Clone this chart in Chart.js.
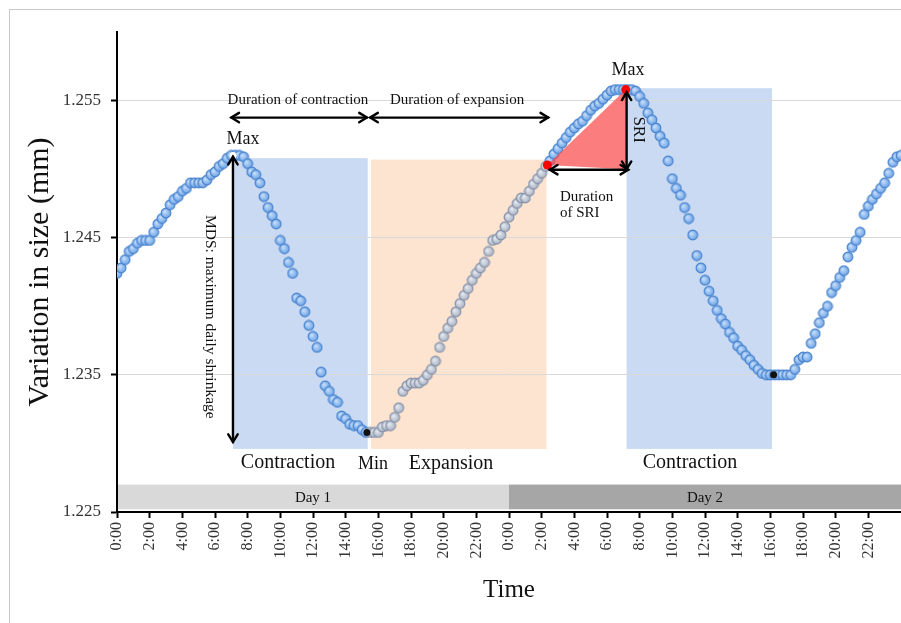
<!DOCTYPE html>
<html>
<head>
<meta charset="utf-8">
<title>Variation in size</title>
<script src="https://cdn.jsdelivr.net/npm/chart.js@4"></script>
<style>
    html, body { margin: 0; padding: 0; background: #fff; }
    #wrap { position: relative; width: 901px; height: 623px; overflow: hidden; }
    #frame { position: absolute; left: 9px; top: 9px; right: -5px; bottom: -5px;
             border-left: 1px solid #c8c8c8; border-top: 1px solid #c8c8c8; }
    canvas { position: absolute; left: 0; top: 0; }
</style>
</head>
<body>
<div id="wrap">
    <div id="frame"></div>
    <canvas id="chart" width="901" height="623"></canvas>
</div>
<script>
// one reading every 15 minutes, from 0:00 of day 1 to 0:00 after day 2
var stepHours = 0.25;
var sizes = [
    1.2424, 1.2428, 1.2434, 1.2440,  // 0h
    1.2442, 1.2446, 1.2448, 1.2448,
    1.2448, 1.2454, 1.2460, 1.2464,
    1.2468, 1.2474, 1.2478, 1.2480,
    1.2484, 1.2486, 1.2490, 1.2490,
    1.2490, 1.2490, 1.2492, 1.2496,
    1.2498, 1.2502, 1.2504, 1.2508,
    1.2510, 1.2510, 1.2510, 1.2509,  // 7h
    1.2504, 1.2498, 1.2496, 1.2490,
    1.2480, 1.2472, 1.2466, 1.2460,
    1.2448, 1.2442, 1.2432, 1.2424,
    1.2406, 1.2404, 1.2396, 1.2386,
    1.2378, 1.2370, 1.2352, 1.2342,  // 12h
    1.2338, 1.2332, 1.2330, 1.2320,
    1.2318, 1.2314, 1.2313, 1.2313,
    1.2310, 1.2308, 1.2308, 1.2308,
    1.2308, 1.2312, 1.2313, 1.2313,
    1.2319, 1.2326, 1.2338, 1.2342,
    1.2344, 1.2344, 1.2344, 1.2346,  // 18h
    1.2350, 1.2354, 1.2360, 1.2370,
    1.2378, 1.2384, 1.2389, 1.2396,
    1.2402, 1.2408, 1.2413, 1.2419,
    1.2424, 1.2428, 1.2432, 1.2440,
    1.2448, 1.2449, 1.2452, 1.2458,
    1.2465, 1.2470, 1.2475, 1.2479,  // 24h (day 2)
    1.2479, 1.2484, 1.2489, 1.2493,
    1.2497, 1.2502, 1.2506, 1.2511,
    1.2515, 1.2519, 1.2523, 1.2527,
    1.2530, 1.2533, 1.2535, 1.2539,
    1.2543, 1.2546, 1.2548, 1.2551,
    1.2554, 1.2557, 1.2558, 1.2558,  // 30h
    1.2558, 1.2558, 1.2558, 1.2557,
    1.2553, 1.2548, 1.2541, 1.2536,
    1.2530, 1.2524, 1.2519, 1.2506,
    1.2493, 1.2486, 1.2481, 1.2472,
    1.2464, 1.2452, 1.2437, 1.2428,
    1.2419, 1.2411, 1.2404, 1.2397,  // 36h
    1.2391, 1.2387, 1.2381, 1.2377,
    1.2371, 1.2368, 1.2364, 1.2361,
    1.2357, 1.2354, 1.2351, 1.2350,
    1.2350, 1.2350, 1.2350, 1.2350,
    1.2350, 1.2350, 1.2354, 1.2361,
    1.2363, 1.2363, 1.2373, 1.2380,  // 42h
    1.2388, 1.2395, 1.2400, 1.2410,
    1.2415, 1.2421, 1.2426, 1.2436,
    1.2443, 1.2448, 1.2454, 1.2467,
    1.2473, 1.2478, 1.2482, 1.2486,
    1.2490, 1.2497, 1.2505, 1.2509,
    1.2510                           // 48h
];

// marked points [hour, mm]
var maxPoints = [[7.1, 1.2510]];
var minPoints = [[15.3, 1.2308], [40.2, 1.2350]];
var sriPoints = [[26.35, 1.2503], [31.15, 1.2558]];

// phases [startHour, endHour, bottomMm, topMm]
var contractionPhases = [[7.1, 15.35, 1.2296, 1.2508], [31.2, 40.1, 1.2296, 1.2559]];
var expansionPhases = [[15.55, 26.3, 1.2296, 1.2507]];
var days = [['Day 1', 0, 24], ['Day 2', 24, 48]];
var dayBand = [1.2252, 1.2270];

var xTickHours = [0, 2, 4, 6, 8, 10, 12, 14, 16, 18, 20, 22, 24, 26, 28, 30, 32, 34, 36, 38, 40, 42, 44, 46];
var xTickLabels = ['0:00', '2:00', '4:00', '6:00', '8:00', '10:00', '12:00', '14:00', '16:00', '18:00', '20:00', '22:00',
                   '0:00', '2:00', '4:00', '6:00', '8:00', '10:00', '12:00', '14:00', '16:00', '18:00', '20:00', '22:00'];
var yTicks = [1.225, 1.235, 1.245, 1.255];

var SERIF = '"Liberation Serif", "Times New Roman", serif';

function makeDot(inner, outer, stroke) {
    var size = 12, r = 4.9;
    var c = document.createElement('canvas');
    c.width = size;
    c.height = size;
    var g = c.getContext('2d');
    var grad = g.createRadialGradient(size / 2 - 1.5, size / 2 - 1.5, 0.5, size / 2, size / 2, r);
    grad.addColorStop(0, inner);
    grad.addColorStop(1, outer);
    g.beginPath();
    g.arc(size / 2, size / 2, r, 0, Math.PI * 2);
    g.fillStyle = grad;
    g.fill();
    g.lineWidth = 1.1;
    g.strokeStyle = stroke;
    g.stroke();
    return c;
}

var blueDot = makeDot('#c6defb', '#6aa2e4', '#4780cd');
var greyDot = makeDot('#e6e9ef', '#a8b2c4', '#8490a7');

function inExpansion(h) {
    return expansionPhases.some(function(p) { return h > p[0] - 0.2 && h < p[1]; });
}

function toXY(list) {
    return list.map(function(p) { return { x: p[0], y: p[1] }; });
}

var series = sizes.map(function(v, i) { return { x: i * stepHours, y: v }; });

// ---- drawing helpers ----
function arrowHead(ctx, x1, y1, x2, y2) {
    var a = Math.atan2(y2 - y1, x2 - x1);
    var len = 9, spread = 0.55;
    ctx.beginPath();
    ctx.moveTo(x2 - len * Math.cos(a - spread), y2 - len * Math.sin(a - spread));
    ctx.lineTo(x2, y2);
    ctx.lineTo(x2 - len * Math.cos(a + spread), y2 - len * Math.sin(a + spread));
    ctx.stroke();
}

function doubleArrow(ctx, x1, y1, x2, y2) {
    ctx.save();
    ctx.strokeStyle = '#000';
    ctx.lineWidth = 2.4;
    ctx.lineCap = 'round';
    ctx.lineJoin = 'miter';
    ctx.beginPath();
    ctx.moveTo(x1, y1);
    ctx.lineTo(x2, y2);
    ctx.stroke();
    arrowHead(ctx, x1, y1, x2, y2);
    arrowHead(ctx, x2, y2, x1, y1);
    ctx.restore();
}

function label(ctx, text, x, y, size, rot, align) {
    ctx.save();
    ctx.fillStyle = '#111';
    ctx.font = size + 'px ' + SERIF;
    ctx.textAlign = align || 'center';
    ctx.textBaseline = 'middle';
    ctx.translate(x, y);
    if (rot) ctx.rotate(rot);
    ctx.fillText(text, 0, 0);
    ctx.restore();
}

var phasePlugin = {
    id: 'phases',
    beforeDraw: function(chart) {
        var ctx = chart.ctx, xs = chart.scales.x, ys = chart.scales.y;
        function box(p, color) {
            var l = xs.getPixelForValue(p[0]), r = xs.getPixelForValue(p[1]);
            var t = ys.getPixelForValue(p[3]), b = ys.getPixelForValue(p[2]);
            ctx.fillStyle = color;
            ctx.fillRect(l, t, r - l, b - t);
        }
        ctx.save();
        contractionPhases.forEach(function(p) { box(p, '#c9daf2'); });
        expansionPhases.forEach(function(p) { box(p, '#fde4d0'); });

        // day band under the curve
        var bt = ys.getPixelForValue(dayBand[1]), bb = ys.getPixelForValue(dayBand[0]);
        days.forEach(function(d, i) {
            var l = xs.getPixelForValue(d[1]), r = xs.getPixelForValue(d[2]);
            ctx.fillStyle = i === 0 ? '#d9d9d9' : '#a6a6a6';
            ctx.fillRect(l, bt, r - l, bb - bt);
            label(ctx, d[0], (l + r) / 2, (bt + bb) / 2 + 1, 15);
        });
        ctx.restore();
    },
    afterDatasetDraw: function(chart, args) {
        if (args.index !== 0) return;
        // SRI triangle sits over the curve, under the red markers
        var ctx = chart.ctx, xs = chart.scales.x, ys = chart.scales.y;
        var a = sriPoints[0], m = sriPoints[1];
        ctx.save();
        ctx.fillStyle = 'rgba(250, 75, 75, 0.72)';
        ctx.beginPath();
        ctx.moveTo(xs.getPixelForValue(a[0]), ys.getPixelForValue(a[1]));
        ctx.lineTo(xs.getPixelForValue(m[0]), ys.getPixelForValue(m[1]));
        ctx.lineTo(xs.getPixelForValue(m[0]), ys.getPixelForValue(1.2500));
        ctx.closePath();
        ctx.fill();
        ctx.restore();
    },
    afterDatasetsDraw: function(chart) {
        var ctx = chart.ctx, xs = chart.scales.x, ys = chart.scales.y;
        function px(h) { return xs.getPixelForValue(h); }
        function py(v) { return ys.getPixelForValue(v); }

        // durations across the top
        doubleArrow(ctx, px(7.0), py(1.25376), px(15.3), py(1.25376));
        doubleArrow(ctx, px(15.5), py(1.25376), px(26.4), py(1.25376));
        label(ctx, 'Duration of contraction', px(11.08), py(1.25507), 15);
        label(ctx, 'Duration of expansion', px(20.82), py(1.25507), 15);

        // MDS
        doubleArrow(ctx, px(7.1), py(1.2509), px(7.1), py(1.2301));
        label(ctx, 'MDS: maximum daily shrinkage', px(5.69), py(1.23923), 15.5, Math.PI / 2);

        // SRI
        doubleArrow(ctx, px(31.2), py(1.2556), px(31.2), py(1.2500));
        doubleArrow(ctx, px(26.5), py(1.24996), px(31.3), py(1.24996));
        label(ctx, 'SRI', px(31.9), py(1.25288), 17, Math.PI / 2);
        label(ctx, 'Duration', px(27.12), py(1.24799), 15, 0, 'left');
        label(ctx, 'of SRI', px(27.12), py(1.24682), 15, 0, 'left');

        // extremes and phases
        label(ctx, 'Max', px(7.71), py(1.25215), 18);
        label(ctx, 'Max', px(31.29), py(1.25719), 18);
        label(ctx, 'Min', px(15.67), py(1.2285), 18);
        label(ctx, 'Contraction', px(10.47), py(1.22858), 20);
        label(ctx, 'Expansion', px(20.45), py(1.2285), 20);
        label(ctx, 'Contraction', px(35.08), py(1.22858), 20);
    }
};

new Chart(document.getElementById('chart'), {
    type: 'scatter',
    data: {
        datasets: [
            {
                label: 'Variation in size',
                data: series,
                order: 3,
                showLine: false,
                pointRadius: 5,
                pointStyle: function(ctx) {
                    return ctx.raw && inExpansion(ctx.raw.x) ? greyDot : blueDot;
                }
            },
            {
                label: 'SRI',
                data: toXY(sriPoints),
                order: 1,
                pointRadius: 4.5,
                pointBackgroundColor: '#ff0000',
                pointBorderWidth: 0
            },
            {
                label: 'Min',
                data: toXY(minPoints),
                order: 0,
                pointRadius: 3.5,
                pointBackgroundColor: '#111',
                pointBorderWidth: 0
            },
            {
                label: 'Max',
                data: toXY(maxPoints),
                order: 0,
                pointRadius: 3.5,
                pointBackgroundColor: '#fff',
                pointBorderWidth: 0
            }
        ]
    },
    options: {
        responsive: false,
        animation: false,
        devicePixelRatio: 1,
        layout: { autoPadding: false, padding: { top: 32, left: 0, right: 0, bottom: 0 } },
        plugins: {
            legend: { display: false },
            tooltip: { enabled: false }
        },
        scales: {
            x: {
                type: 'linear',
                min: 0,
                max: 48,
                afterBuildTicks: function(scale) {
                    scale.ticks = xTickHours.map(function(h) { return { value: h }; });
                },
                afterFit: function(scale) {
                    scale.height = 111;
                    scale.paddingLeft = 0;
                    scale.paddingRight = 0;
                },
                ticks: {
                    autoSkip: false,
                    minRotation: 90,
                    maxRotation: 90,
                    padding: 4,
                    color: '#333',
                    font: { family: SERIF, size: 16 },
                    callback: function(value, index) { return xTickLabels[index]; }
                },
                grid: {
                    drawOnChartArea: false,
                    drawTicks: true,
                    tickLength: 6,
                    tickColor: '#000',
                    tickWidth: 2
                },
                border: { color: '#000', width: 2 },
                title: {
                    display: true,
                    text: 'Time',
                    color: '#111',
                    font: { family: SERIF, size: 25 },
                    padding: { top: 0, bottom: 18 }
                }
            },
            y: {
                min: 1.225,
                max: 1.26,
                afterBuildTicks: function(scale) {
                    scale.ticks = yTicks.map(function(v) { return { value: v }; });
                },
                afterFit: function(scale) {
                    scale.width = 117;
                    scale.paddingTop = 0;
                    scale.paddingBottom = 0;
                },
                ticks: {
                    padding: 10,
                    color: '#333',
                    font: { family: SERIF, size: 17 },
                    callback: function(value) { return value.toFixed(3); }
                },
                grid: {
                    color: function(ctx) {
                        return ctx.tick && ctx.tick.value === yTicks[0] ? 'rgba(0,0,0,0)' : '#d9d9d9';
                    },
                    lineWidth: 1,
                    tickLength: 6,
                    tickColor: '#000',
                    tickWidth: 2
                },
                border: { color: '#000', width: 2 },
                title: {
                    display: true,
                    text: 'Variation in size (mm)',
                    color: '#111',
                    font: { family: SERIF, size: 30 },
                    padding: { top: 22, bottom: 0 }
                }
            }
        }
    },
    plugins: [phasePlugin]
});
</script>
</body>
</html>
